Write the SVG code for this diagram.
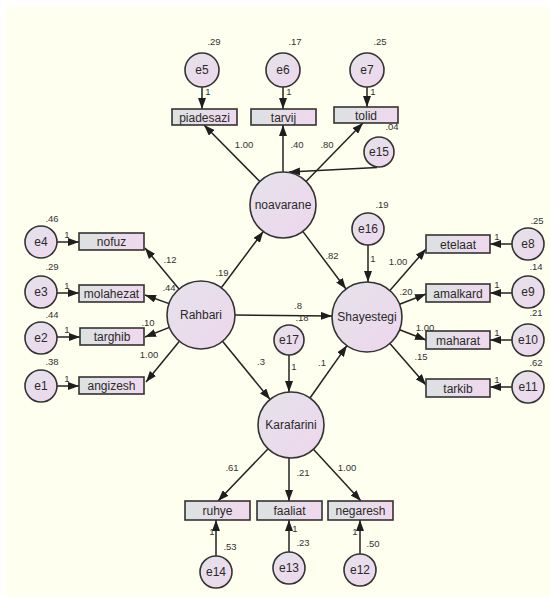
<svg xmlns="http://www.w3.org/2000/svg" width="550" height="597" viewBox="0 0 550 597">
<defs>
<linearGradient id="gc" x1="0" y1="0" x2="1" y2="1">
<stop offset="0" stop-color="#E4E3EA"/>
<stop offset="1" stop-color="#EFD6EE"/>
</linearGradient>
<linearGradient id="gb" x1="0" y1="0" x2="1" y2="0">
<stop offset="0" stop-color="#DCE2E2"/>
<stop offset="1" stop-color="#F1D8EE"/>
</linearGradient>
<marker id="ah" viewBox="0 0 11 8" refX="11" refY="4" markerWidth="11" markerHeight="8" markerUnits="userSpaceOnUse" orient="auto">
<path d="M0,0 L11,4 L0,8 z" fill="#1e1e1e"/>
</marker>
<style>
.c{fill:url(#gc);stroke:#333;stroke-width:1.6}
.b{fill:url(#gb);stroke:#333;stroke-width:1.6}
.t{font-family:"Liberation Sans",Arial,sans-serif;font-size:12px;fill:#2a2a2a;text-anchor:middle}
.n{font-family:"Liberation Sans",Arial,sans-serif;font-size:9.5px;fill:#333;text-anchor:middle}
.l{stroke:#222;stroke-width:1.5;fill:none;marker-end:url(#ah)}
</style>
</defs>
<rect x="0" y="0" width="550" height="597" fill="#ffffff"/>
<rect x="6" y="7" width="544" height="590" fill="#FEFFEF"/>

<g id="connectors">
<!-- structural -->
<line class="l" x1="221.3" y1="287.7" x2="263.3" y2="231.5"/>
<line class="l" x1="302.8" y1="231.4" x2="346" y2="289"/>
<line class="l" x1="235" y1="315" x2="332" y2="316"/>
<line class="l" x1="222.5" y1="341.3" x2="270.1" y2="399.5"/>
<line class="l" x1="310" y1="398" x2="346.9" y2="345.6"/>
<line class="l" x1="289" y1="355" x2="289" y2="392"/>
<line class="l" x1="368" y1="245" x2="368" y2="282"/>
<line class="l" x1="377" y1="167.5" x2="289" y2="172"/>
<!-- noavarane indicators -->
<line class="l" x1="259.8" y1="181.5" x2="204" y2="125"/>
<line class="l" x1="283" y1="172" x2="283" y2="125"/>
<line class="l" x1="306" y1="181.4" x2="363" y2="123"/>
<line class="l" x1="202" y1="87" x2="202" y2="109"/>
<line class="l" x1="283" y1="87" x2="283" y2="109"/>
<line class="l" x1="367" y1="87" x2="367" y2="107"/>
<!-- Rahbari indicators -->
<line class="l" x1="179" y1="289.1" x2="145" y2="248"/>
<line class="l" x1="169" y1="303.6" x2="145" y2="295"/>
<line class="l" x1="169.4" y1="327.4" x2="145" y2="337"/>
<line class="l" x1="179.4" y1="341.3" x2="146" y2="382"/>
<line class="l" x1="57" y1="242" x2="79" y2="242"/>
<line class="l" x1="57" y1="293" x2="79" y2="293"/>
<line class="l" x1="57" y1="337" x2="80" y2="337"/>
<line class="l" x1="57" y1="386" x2="79" y2="386"/>
<!-- Shayestegi indicators -->
<line class="l" x1="389.9" y1="290.6" x2="426" y2="249"/>
<line class="l" x1="399.6" y1="304.3" x2="426" y2="294"/>
<line class="l" x1="399.6" y1="329.7" x2="426" y2="340"/>
<line class="l" x1="389.9" y1="343.4" x2="426" y2="385"/>
<line class="l" x1="512" y1="244" x2="490" y2="244"/>
<line class="l" x1="512" y1="293" x2="490" y2="293"/>
<line class="l" x1="512" y1="340" x2="490" y2="340"/>
<line class="l" x1="512" y1="387" x2="490" y2="387"/>
<!-- Karafarini indicators -->
<line class="l" x1="268.1" y1="448.8" x2="218" y2="501"/>
<line class="l" x1="289" y1="458" x2="289" y2="501"/>
<line class="l" x1="313.4" y1="449.3" x2="361" y2="501"/>
<line class="l" x1="216" y1="556" x2="216" y2="520"/>
<line class="l" x1="289" y1="552" x2="289" y2="520"/>
<line class="l" x1="360" y1="554" x2="360" y2="520"/>

<!-- path coefficients -->
<text class="n" x="222" y="276">.19</text>
<text class="n" x="332" y="259">.82</text>
<text class="n" x="298" y="309">.8</text>
<text class="n" x="302" y="321">.18</text>
<text class="n" x="261" y="365">.3</text>
<text class="n" x="322" y="366">.1</text>
<text class="n" x="294" y="370">1</text>
<text class="n" x="373" y="262">1</text>
<text class="n" x="244" y="148">1.00</text>
<text class="n" x="297" y="148">.40</text>
<text class="n" x="327" y="148">.80</text>
<text class="n" x="208" y="95">1</text>
<text class="n" x="289" y="95">1</text>
<text class="n" x="373" y="95">1</text>
<text class="n" x="170" y="263">.12</text>
<text class="n" x="169" y="291">.44</text>
<text class="n" x="148" y="326">.10</text>
<text class="n" x="149" y="358">1.00</text>
<text class="n" x="67" y="238">1</text>
<text class="n" x="67" y="289">1</text>
<text class="n" x="67" y="333">1</text>
<text class="n" x="67" y="382">1</text>
<text class="n" x="398" y="265">1.00</text>
<text class="n" x="406" y="295">.20</text>
<text class="n" x="425" y="331">1.00</text>
<text class="n" x="421" y="360">.15</text>
<text class="n" x="497" y="240">1</text>
<text class="n" x="497" y="288">1</text>
<text class="n" x="497" y="336">1</text>
<text class="n" x="497" y="383">1</text>
<text class="n" x="232" y="471">.61</text>
<text class="n" x="303" y="476">.21</text>
<text class="n" x="347" y="471">1.00</text>
<text class="n" x="212" y="535">1</text>
<text class="n" x="295" y="532">1</text>
<text class="n" x="355" y="535">1</text>
</g>

<g id="e5"><circle class="c" cx="202" cy="70" r="17"/><text class="t" x="202" y="74">e5</text><text class="n" x="214" y="45">.29</text></g>
<g id="e6"><circle class="c" cx="283" cy="70" r="17"/><text class="t" x="283" y="74">e6</text><text class="n" x="295" y="45">.17</text></g>
<g id="e7"><circle class="c" cx="367" cy="70" r="17"/><text class="t" x="367" y="74">e7</text><text class="n" x="380" y="45">.25</text></g>
<g id="piadesazi"><rect class="b" x="172" y="109" width="65" height="16"/><text class="t" x="204.5" y="121.5">piadesazi</text></g>
<g id="tarvij"><rect class="b" x="251" y="109" width="65" height="16"/><text class="t" x="283.5" y="121.5">tarvij</text></g>
<g id="tolid"><rect class="b" x="334" y="107" width="64" height="16"/><text class="t" x="366" y="119.5">tolid</text></g>
<g id="e15"><circle class="c" cx="379" cy="152" r="15"/><text class="t" x="379" y="156">e15</text><text class="n" x="392" y="130">.04</text></g>
<g id="noavarane"><circle class="c" cx="283" cy="205" r="33"/><text class="t" x="283" y="209">noavarane</text></g>
<g id="e16"><circle class="c" cx="368" cy="229" r="16"/><text class="t" x="368" y="233">e16</text><text class="n" x="382" y="208">.19</text></g>
<g id="Rahbari"><circle class="c" cx="201" cy="315" r="34"/><text class="t" x="201" y="319">Rahbari</text></g>
<g id="Shayestegi"><circle class="c" cx="367" cy="317" r="35"/><text class="t" x="367" y="321">Shayestegi</text></g>
<g id="e17"><circle class="c" cx="289" cy="340" r="15"/><text class="t" x="289" y="344">e17</text></g>
<g id="Karafarini"><circle class="c" cx="291" cy="425" r="33"/><text class="t" x="291" y="429">Karafarini</text></g>

<g id="nofuz"><rect class="b" x="79" y="233" width="65" height="17"/><text class="t" x="111.5" y="246">nofuz</text></g>
<g id="molahezat"><rect class="b" x="79" y="285" width="65" height="17"/><text class="t" x="111.5" y="298">molahezat</text></g>
<g id="targhib"><rect class="b" x="80" y="328" width="64" height="17"/><text class="t" x="112" y="341">targhib</text></g>
<g id="angizesh"><rect class="b" x="79" y="377" width="65" height="17"/><text class="t" x="111.5" y="390">angizesh</text></g>
<g id="e4"><circle class="c" cx="41" cy="242" r="16"/><text class="t" x="41" y="246">e4</text><text class="n" x="52" y="222">.46</text></g>
<g id="e3"><circle class="c" cx="41" cy="292" r="16"/><text class="t" x="41" y="296">e3</text><text class="n" x="52" y="270">.29</text></g>
<g id="e2"><circle class="c" cx="41" cy="338" r="16"/><text class="t" x="41" y="342">e2</text><text class="n" x="52" y="318">.44</text></g>
<g id="e1"><circle class="c" cx="41" cy="386" r="16"/><text class="t" x="41" y="390">e1</text><text class="n" x="52" y="365">.38</text></g>

<g id="etelaat"><rect class="b" x="426" y="235" width="64" height="18"/><text class="t" x="458" y="248.5">etelaat</text></g>
<g id="amalkard"><rect class="b" x="426" y="284" width="64" height="18"/><text class="t" x="458" y="297.5">amalkard</text></g>
<g id="maharat"><rect class="b" x="426" y="331" width="64" height="18"/><text class="t" x="458" y="344.5">maharat</text></g>
<g id="tarkib"><rect class="b" x="426" y="379" width="64" height="18"/><text class="t" x="458" y="392.5">tarkib</text></g>
<g id="e8"><circle class="c" cx="528" cy="244" r="16"/><text class="t" x="528" y="248">e8</text><text class="n" x="537" y="224">.25</text></g>
<g id="e9"><circle class="c" cx="528" cy="292" r="16"/><text class="t" x="528" y="296">e9</text><text class="n" x="536" y="270">.14</text></g>
<g id="e10"><circle class="c" cx="528" cy="340" r="16"/><text class="t" x="528" y="344">e10</text><text class="n" x="536" y="316">.21</text></g>
<g id="e11"><circle class="c" cx="528" cy="387" r="16"/><text class="t" x="528" y="391">e11</text><text class="n" x="536" y="366">.62</text></g>

<g id="ruhye"><rect class="b" x="185" y="501" width="65" height="19"/><text class="t" x="217.5" y="515">ruhye</text></g>
<g id="faaliat"><rect class="b" x="257" y="501" width="65" height="19"/><text class="t" x="289.5" y="515">faaliat</text></g>
<g id="negaresh"><rect class="b" x="328" y="501" width="65" height="19"/><text class="t" x="360.5" y="515">negaresh</text></g>
<g id="e14"><circle class="c" cx="216" cy="572" r="16"/><text class="t" x="216" y="576">e14</text><text class="n" x="230" y="550">.53</text></g>
<g id="e13"><circle class="c" cx="289" cy="568" r="16"/><text class="t" x="289" y="572">e13</text><text class="n" x="303" y="546">.23</text></g>
<g id="e12"><circle class="c" cx="360" cy="570" r="16"/><text class="t" x="360" y="574">e12</text><text class="n" x="373" y="547">.50</text></g>
</svg>
